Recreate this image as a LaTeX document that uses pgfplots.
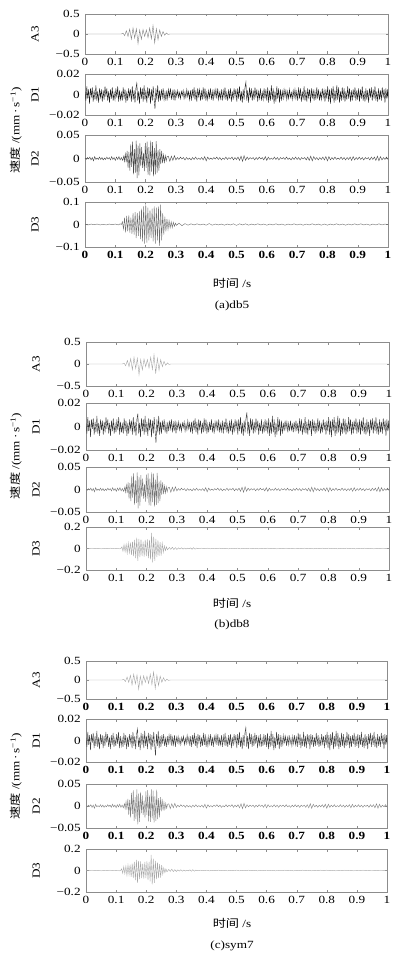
\documentclass[border=0pt]{standalone}
\usepackage{fontspec}
\setmainfont{Liberation Serif}[FakeStretch=1.2]
\newfontfamily\cjk{Noto Sans CJK SC}[FakeStretch=1.2]
\usepackage{pgfplots}
\usepackage{pgfplotstable}
\pgfplotsset{compat=1.18}

% A3 approximation (same shape in all three decompositions)
\pgfplotstableread{
t v
0 0
0.12 0
0.1255 0.02
0.131 -0.04
0.1365 0.08
0.142 -0.06
0.1475 0.12
0.153 -0.13
0.1585 0.15
0.164 -0.1
0.1695 0.13
0.175 -0.24
0.1805 0.1
0.186 -0.13
0.1915 0.11
0.197 -0.06
0.2025 0.1
0.208 -0.09
0.2135 0.15
0.219 -0.12
0.2245 0.21
0.23 -0.22
0.2355 0.13
0.241 -0.14
0.2465 0.1
0.252 -0.06
0.2575 0.06
0.263 -0.03
0.2685 0.025
0.274 -0.01
0.28 0
1 0
}\tAthree

% D1 detail
\pgfplotstableread{
t v
0 0.003
0.003 -0.006
0.006 0.008
0.009 -0.004
0.012 0.005
0.015 -0.009
0.018 0.006
0.021 -0.002
0.024 0.007
0.027 -0.007
0.03 0.004
0.033 -0.005
0.036 0.009
0.039 -0.006
0.042 0.003
0.045 -0.008
0.048 0.006
0.051 -0.003
0.054 0.005
0.057 -0.007
0.06 0.004
0.063 -0.005
0.066 0.008
0.069 -0.002
0.072 0.006
0.075 -0.006
0.078 0.003
0.081 -0.008
0.084 0.005
0.087 -0.004
0.09 0.007
0.093 -0.006
0.096 0.002
0.099 -0.005
0.102 0.006
0.105 -0.003
0.108 0.008
0.111 -0.007
0.114 0.004
0.117 -0.005
0.12 0.002
0.123 -0.006
0.126 0.007
0.129 -0.004
0.132 0.005
0.135 -0.008
0.138 0.003
0.141 -0.006
0.144 0.006
0.147 -0.002
0.15 0.005
0.153 -0.007
0.156 0.008
0.159 -0.005
0.162 0.004
0.165 -0.008
0.168 0.006
0.171 0.011
0.174 -0.006
0.177 0.003
0.18 -0.009
0.183 0.007
0.186 -0.004
0.189 0.006
0.192 -0.007
0.195 0.009
0.198 -0.005
0.201 0.004
0.204 -0.008
0.207 0.007
0.21 -0.003
0.213 0.006
0.216 -0.009
0.219 0.005
0.222 -0.006
0.225 0.008
0.228 -0.004
0.231 -0.014
0.234 0.006
0.237 -0.005
0.24 0.009
0.243 -0.007
0.246 0.004
0.249 -0.006
0.252 0.005
0.255 -0.003
0.258 0.006
0.261 -0.005
0.264 0.002
0.267 -0.006
0.27 0.004
0.273 -0.004
0.276 0.005
0.279 -0.002
0.282 0.006
0.285 -0.005
0.288 0.003
0.291 -0.004
0.294 0.005
0.297 -0.006
0.3 0.003
0.303 -0.002
0.306 0.004
0.309 -0.003
0.312 0.002
0.315 -0.004
0.318 0.003
0.321 -0.001
0.324 0.004
0.327 -0.004
0.33 0.002
0.333 -0.003
0.336 0.005
0.339 -0.002
0.342 0.003
0.345 -0.005
0.348 0.004
0.351 -0.006
0.354 0.005
0.357 -0.003
0.36 0.007
0.363 -0.005
0.366 0.004
0.369 -0.007
0.372 0.006
0.375 -0.002
0.378 0.005
0.381 -0.006
0.384 0.003
0.387 -0.005
0.39 0.007
0.393 -0.004
0.396 0.006
0.399 -0.006
0.402 0.002
0.405 -0.005
0.408 0.004
0.411 -0.003
0.414 0.006
0.417 -0.005
0.42 0.003
0.423 -0.006
0.426 0.004
0.429 -0.002
0.432 0.005
0.435 -0.004
0.438 0.006
0.441 -0.005
0.444 0.002
0.447 -0.004
0.45 0.005
0.453 -0.006
0.456 0.004
0.459 -0.003
0.462 0.007
0.465 -0.005
0.468 0.002
0.471 -0.006
0.474 0.005
0.477 -0.004
0.48 0.006
0.483 -0.007
0.486 0.003
0.489 -0.005
0.492 0.006
0.495 -0.002
0.498 0.005
0.501 -0.007
0.504 0.006
0.507 -0.004
0.51 0.008
0.513 -0.006
0.516 0.003
0.519 -0.008
0.522 0.005
0.525 -0.005
0.528 0.007
0.531 0.012
0.534 -0.006
0.537 0.004
0.54 -0.008
0.543 0.007
0.546 -0.003
0.549 0.006
0.552 -0.006
0.555 0.004
0.558 -0.005
0.561 0.007
0.564 -0.003
0.567 0.005
0.57 -0.007
0.573 0.003
0.576 -0.004
0.579 0.006
0.582 -0.006
0.585 0.002
0.588 -0.005
0.591 0.006
0.594 -0.004
0.597 0.005
0.6 -0.006
0.603 0.007
0.606 -0.008
0.609 0.004
0.612 -0.006
0.615 0.009
0.618 -0.005
0.621 0.006
0.624 -0.009
0.627 0.003
0.63 -0.007
0.633 0.008
0.636 -0.004
0.639 0.006
0.642 -0.008
0.645 0.005
0.648 -0.006
0.651 0.003
0.654 -0.004
0.657 0.005
0.66 -0.002
0.663 0.004
0.666 -0.005
0.669 0.003
0.672 -0.004
0.675 0.005
0.678 -0.003
0.681 0.002
0.684 -0.005
0.687 0.004
0.69 -0.003
0.693 0.005
0.696 -0.004
0.699 0.003
0.702 -0.006
0.705 0.007
0.708 -0.004
0.711 0.006
0.714 -0.007
0.717 0.003
0.72 -0.005
0.723 0.008
0.726 -0.006
0.729 0.004
0.732 -0.007
0.735 0.006
0.738 -0.003
0.741 0.005
0.744 -0.008
0.747 0.006
0.75 -0.004
0.753 0.005
0.756 -0.006
0.759 0.003
0.762 -0.005
0.765 0.007
0.768 -0.004
0.771 0.005
0.774 -0.006
0.777 0.002
0.78 -0.005
0.783 0.006
0.786 -0.003
0.789 0.004
0.792 -0.007
0.795 0.005
0.798 -0.004
0.801 0.008
0.804 -0.007
0.807 0.005
0.81 -0.009
0.813 0.006
0.816 -0.004
0.819 0.008
0.822 -0.008
0.825 0.004
0.828 -0.006
0.831 0.009
0.834 -0.005
0.837 0.007
0.84 -0.008
0.843 0.003
0.846 -0.006
0.849 0.007
0.852 -0.005
0.855 0.006
0.858 -0.007
0.861 0.003
0.864 -0.005
0.867 0.008
0.87 -0.004
0.873 0.006
0.876 -0.007
0.879 0.004
0.882 -0.006
0.885 0.005
0.888 -0.003
0.891 0.007
0.894 -0.006
0.897 0.004
0.9 -0.005
0.903 0.006
0.906 -0.007
0.909 0.005
0.912 -0.004
0.915 0.008
0.918 -0.006
0.921 0.003
0.924 -0.007
0.927 0.006
0.93 -0.005
0.933 0.004
0.936 -0.008
0.939 0.006
0.942 -0.003
0.945 0.007
0.948 -0.006
0.951 0.005
0.954 -0.004
0.957 0.008
0.96 -0.006
0.963 0.003
0.966 -0.007
0.969 0.006
0.972 -0.005
0.975 0.004
0.978 -0.006
0.981 0.007
0.984 -0.003
0.987 0.005
0.99 -0.008
0.993 0.006
0.996 -0.004
0.999 0.005
1 -0.003
}\tDone

% D2 detail
\pgfplotstableread{
t v
0 0.001
0.004 -0.002
0.008 0.002
0.012 -0.001
0.016 0.003
0.02 -0.003
0.024 0.002
0.028 -0.005
0.032 0.004
0.036 -0.002
0.04 0.001
0.044 -0.002
0.048 0.003
0.052 -0.002
0.056 0.002
0.06 -0.003
0.064 0.001
0.068 -0.002
0.072 0.003
0.076 -0.001
0.08 0.002
0.084 -0.003
0.088 0.004
0.092 -0.002
0.096 0.002
0.1 -0.004
0.104 0.003
0.108 -0.002
0.112 0.004
0.116 -0.003
0.12 0.002
0.124 -0.004
0.128 0.005
0.13 -0.006
0.133 0.01
0.136 -0.008
0.139 0.016
0.142 -0.02
0.145 0.014
0.148 -0.026
0.151 0.03
0.154 -0.018
0.157 0.036
0.16 -0.034
0.163 0.02
0.166 -0.03
0.169 0.038
0.172 -0.042
0.175 0.028
0.178 -0.036
0.181 0.032
0.184 -0.016
0.187 0.024
0.19 -0.02
0.193 0.012
0.196 -0.027
0.199 0.033
0.202 -0.02
0.205 0.036
0.208 -0.035
0.211 0.024
0.214 -0.036
0.217 0.038
0.22 -0.028
0.223 0.035
0.226 -0.038
0.229 0.022
0.232 -0.034
0.235 0.037
0.238 -0.03
0.241 0.018
0.244 -0.026
0.247 0.02
0.25 -0.012
0.253 0.016
0.256 -0.01
0.259 0.008
0.262 -0.008
0.265 0.006
0.268 -0.005
0.271 0.004
0.275 0.005
0.28 -0.006
0.285 0.005
0.29 -0.004
0.295 0.006
0.3 -0.003
0.305 0.002
0.31 -0.002
0.315 0.003
0.32 -0.001
0.325 0.002
0.33 -0.003
0.335 0.002
0.34 -0.002
0.345 0.001
0.35 -0.003
0.355 0.002
0.36 -0.002
0.365 0.003
0.37 -0.002
0.375 0.001
0.38 -0.002
0.385 0.002
0.39 -0.003
0.395 0.004
0.4 -0.005
0.405 0.003
0.41 -0.002
0.415 0.001
0.42 -0.002
0.425 0.002
0.43 -0.001
0.435 0.003
0.44 -0.002
0.445 0.002
0.45 -0.003
0.455 0.001
0.46 -0.002
0.465 0.003
0.47 -0.002
0.475 0.002
0.48 -0.001
0.485 0.003
0.49 -0.003
0.495 0.002
0.5 -0.002
0.505 0.003
0.51 -0.004
0.515 0.005
0.52 -0.006
0.525 0.006
0.53 -0.004
0.535 0.003
0.54 -0.002
0.545 0.002
0.55 -0.001
0.555 0.002
0.56 -0.003
0.565 0.002
0.57 -0.002
0.575 0.003
0.58 -0.001
0.585 0.002
0.59 -0.003
0.595 0.004
0.6 -0.004
0.605 0.003
0.61 -0.002
0.615 0.001
0.62 -0.002
0.625 0.003
0.63 -0.002
0.635 0.002
0.64 -0.003
0.645 0.002
0.65 -0.001
0.655 0.002
0.66 -0.002
0.665 0.003
0.67 -0.002
0.675 0.001
0.68 -0.003
0.685 0.002
0.69 -0.002
0.695 0.003
0.7 -0.002
0.705 0.002
0.71 -0.003
0.715 0.002
0.72 -0.001
0.725 0.002
0.73 -0.003
0.735 0.003
0.74 -0.004
0.745 0.005
0.75 -0.005
0.755 0.004
0.76 -0.002
0.765 0.002
0.77 -0.003
0.775 0.002
0.78 -0.002
0.785 0.003
0.79 -0.003
0.795 0.004
0.8 -0.005
0.805 0.004
0.81 -0.003
0.815 0.002
0.82 -0.002
0.825 0.003
0.83 -0.002
0.835 0.001
0.84 -0.002
0.845 0.003
0.85 -0.002
0.855 0.002
0.86 -0.003
0.865 0.002
0.87 -0.002
0.875 0.003
0.88 -0.004
0.885 0.004
0.89 -0.003
0.895 0.002
0.9 -0.002
0.905 0.003
0.91 -0.002
0.915 0.002
0.92 -0.003
0.925 0.002
0.93 -0.001
0.935 0.002
0.94 -0.003
0.945 0.003
0.95 -0.002
0.955 0.003
0.96 -0.004
0.965 0.005
0.97 -0.005
0.975 0.004
0.98 -0.003
0.985 0.002
0.99 -0.002
0.995 0.003
1 -0.002
}\tDtwo

% D3 detail, db5
\pgfplotstableread{
t v
0 0.001
0.01 -0.002
0.02 0.002
0.03 -0.001
0.04 0.002
0.05 -0.002
0.06 0.001
0.07 -0.002
0.08 0.002
0.09 -0.001
0.1 0.002
0.11 -0.002
0.116 0.003
0.12 0
0.1235 0.012
0.127 -0.02
0.1305 0.03
0.134 -0.035
0.1375 0.038
0.141 -0.03
0.1445 0.04
0.148 -0.036
0.1515 0.03
0.155 -0.042
0.1585 0.05
0.162 -0.045
0.1655 0.055
0.169 -0.06
0.1725 0.052
0.176 -0.05
0.1795 0.058
0.183 -0.065
0.1865 0.07
0.19 -0.075
0.1935 0.08
0.197 -0.085
0.2005 0.09
0.204 -0.08
0.2075 0.075
0.211 -0.07
0.2145 0.065
0.218 -0.06
0.2215 0.07
0.225 -0.075
0.2285 0.08
0.232 -0.085
0.2355 0.075
0.239 -0.07
0.2425 0.08
0.246 -0.095
0.2495 0.088
0.253 -0.07
0.2565 0.05
0.26 -0.045
0.2635 0.035
0.267 -0.03
0.2705 0.025
0.274 -0.022
0.2775 0.018
0.281 -0.015
0.2845 0.012
0.288 -0.014
0.2915 0.01
0.295 -0.008
0.2985 0.006
0.302 -0.004
0.31 0.006
0.32 -0.005
0.33 0.004
0.34 -0.003
0.35 0.003
0.36 -0.002
0.37 0.003
0.38 -0.002
0.39 0.002
0.4 -0.003
0.41 0.004
0.42 -0.003
0.43 0.002
0.44 -0.002
0.45 0.002
0.46 -0.003
0.47 0.002
0.48 -0.002
0.49 0.003
0.5 -0.004
0.51 0.003
0.52 -0.002
0.53 0.003
0.54 -0.003
0.55 0.002
0.56 -0.002
0.57 0.003
0.58 -0.002
0.59 0.002
0.6 -0.003
0.61 0.002
0.62 -0.002
0.63 0.003
0.64 -0.002
0.65 0.002
0.66 -0.003
0.67 0.002
0.68 -0.002
0.69 0.003
0.7 -0.002
0.71 0.002
0.72 -0.003
0.73 0.002
0.74 -0.002
0.75 0.003
0.76 -0.002
0.77 0.002
0.78 -0.003
0.79 0.002
0.8 -0.003
0.81 0.002
0.82 -0.002
0.83 0.003
0.84 -0.002
0.85 0.002
0.86 -0.003
0.87 0.002
0.88 -0.002
0.89 0.003
0.9 -0.002
0.91 0.003
0.92 -0.002
0.93 0.002
0.94 -0.003
0.95 0.002
0.96 -0.002
0.97 0.003
0.98 -0.002
0.99 0.002
1 -0.001
}\tDthreeA

% D3 detail, db8 and sym7
\pgfplotstableread{
t v
0 0.002
0.01 -0.002
0.02 0.003
0.03 -0.002
0.04 0.002
0.05 -0.003
0.06 0.002
0.07 -0.002
0.08 0.003
0.09 -0.002
0.1 0.002
0.11 -0.003
0.115 0
0.1185 0.015
0.122 -0.025
0.1255 0.035
0.129 -0.03
0.1325 0.04
0.136 -0.045
0.1395 0.05
0.143 -0.04
0.1465 0.055
0.15 -0.06
0.1535 0.065
0.157 -0.07
0.1605 0.08
0.164 -0.09
0.1675 0.1
0.171 -0.115
0.1745 0.09
0.178 -0.08
0.1815 0.085
0.185 -0.07
0.1885 0.065
0.192 -0.075
0.1955 0.08
0.199 -0.07
0.2025 0.085
0.206 -0.09
0.2095 0.08
0.213 -0.1
0.2165 0.145
0.22 -0.13
0.2235 0.11
0.227 -0.115
0.2305 0.09
0.234 -0.08
0.2375 0.075
0.241 -0.07
0.2445 0.06
0.248 -0.065
0.2515 0.05
0.255 -0.035
0.2585 0.025
0.262 -0.02
0.2655 0.015
0.269 -0.012
0.275 0.01
0.28 -0.008
0.285 0.012
0.29 -0.01
0.295 0.008
0.3 -0.009
0.305 0.006
0.31 -0.005
0.315 0.007
0.32 -0.006
0.325 0.004
0.33 -0.005
0.335 0.003
0.34 -0.003
0.345 0.006
0.35 -0.007
0.355 0.008
0.36 -0.006
0.365 0.004
0.37 -0.002
0.38 0.003
0.39 -0.002
0.4 0.003
0.41 -0.003
0.42 0.002
0.43 -0.002
0.44 0.003
0.45 -0.002
0.46 0.002
0.47 -0.003
0.48 0.002
0.49 -0.002
0.5 0.003
0.51 -0.003
0.52 0.002
0.53 -0.002
0.54 0.003
0.55 -0.002
0.56 0.002
0.57 -0.003
0.58 0.002
0.59 -0.002
0.6 0.003
0.61 -0.002
0.62 0.002
0.63 -0.003
0.64 0.002
0.65 -0.002
0.66 0.003
0.67 -0.002
0.68 0.002
0.69 -0.003
0.7 0.002
0.71 -0.002
0.72 0.003
0.73 -0.002
0.74 0.002
0.75 -0.003
0.76 0.002
0.77 -0.002
0.78 0.003
0.79 -0.002
0.8 0.003
0.81 -0.002
0.82 0.002
0.83 -0.003
0.84 0.002
0.85 -0.002
0.86 0.003
0.87 -0.002
0.88 0.002
0.89 -0.003
0.9 0.002
0.91 -0.002
0.92 0.003
0.93 -0.002
0.94 0.002
0.95 -0.003
0.96 0.002
0.97 -0.002
0.98 0.003
0.99 -0.002
1 0.001
}\tDthreeB

\def\tfont{\fontsize{11}{13}\selectfont}

\pgfplotsset{
  panel/.style={
    scale only axis, anchor=north west,
    xmin=0, xmax=1,
    xtick={0,0.1,0.2,0.3,0.4,0.5,0.6,0.7,0.8,0.9,1},
    xticklabels={0,0.1,0.2,0.3,0.4,0.5,0.6,0.7,0.8,0.9,1},
    scaled y ticks=false,
    tick align=inside, xtick pos=both, ytick pos=both,
    major tick length=2.5pt,
    axis line style={black!45, line width=0.5pt},
    tick style={black!45, line width=0.4pt},
    ticklabel style={font=\tfont},
    yticklabel style={xshift=-1.5pt},
    label style={font=\tfont},
    ylabel style={at={(axis description cs:-0.165,0.5)}, anchor=center},
  }
}

% x, top, width, height, ymax, table, colour, label, x tick font
\newcommand{\panel}[9]{%
  \begin{axis}[panel, at={(#1pt,-#2pt)}, width=#3pt, height=#4pt,
    ymin=-#5, ymax=#5, ytick={-#5,0,#5}, yticklabels={−#5,0,#5},
    ylabel={#8},
    xticklabel style={font=\tfont#9}]
    \addplot[draw=#7, line width=0.4pt] table[x=t, y=v] {#6};
  \end{axis}}

\newcommand{\speed}{{\cjk 速度}\ /(mm\,·\,s\textsuperscript{−1})}
\newcommand{\zeit}{{\cjk 时间}\ /s}

\begin{document}
\tfont
\begin{tikzpicture}
\path[use as bounding box] (0,0) rectangle (412pt,-960pt);

% (a) db5
\panel{85}{14}{303}{40}{0.5}{\tAthree}{black!50}{A3}{}
\panel{85}{74}{303}{41}{0.02}{\tDone}{black!90}{D1}{}
\panel{85}{135}{303}{47}{0.05}{\tDtwo}{black!72}{D2}{}
\panel{85}{202}{303}{45}{0.1}{\tDthreeA}{black!58}{D3}{\bfseries}
\node[rotate=90] at (16pt,-130.5pt) {\speed};
\node at (232pt,-283pt) {\zeit};
\node at (232pt,-306pt) {(a)db5};

% (b) db8
\panel{86}{342}{303}{44}{0.5}{\tAthree}{black!35}{A3}{}
\panel{86}{403}{303}{47}{0.02}{\tDone}{black!80}{D1}{}
\panel{86}{467}{303}{45}{0.05}{\tDtwo}{black!55}{D2}{}
\panel{86}{527}{303}{43}{0.2}{\tDthreeB}{black!35}{D3}{}
\node[rotate=90] at (16pt,-456pt) {\speed};
\node at (232pt,-603pt) {\zeit};
\node at (232pt,-625pt) {(b)db8};

% (c) sym7
\panel{86}{661}{301}{38}{0.5}{\tAthree}{black!35}{A3}{\bfseries}
\panel{86}{719}{301}{43}{0.02}{\tDone}{black!75}{D1}{\bfseries}
\panel{86}{784}{301}{44}{0.05}{\tDtwo}{black!50}{D2}{\bfseries}
\panel{86}{849}{301}{43}{0.2}{\tDthreeB}{black!35}{D3}{}
\node[rotate=90] at (16pt,-776.5pt) {\speed};
\node at (232pt,-923pt) {\zeit};
\node at (232pt,-946pt) {(c)sym7};
\end{tikzpicture}
\end{document}
